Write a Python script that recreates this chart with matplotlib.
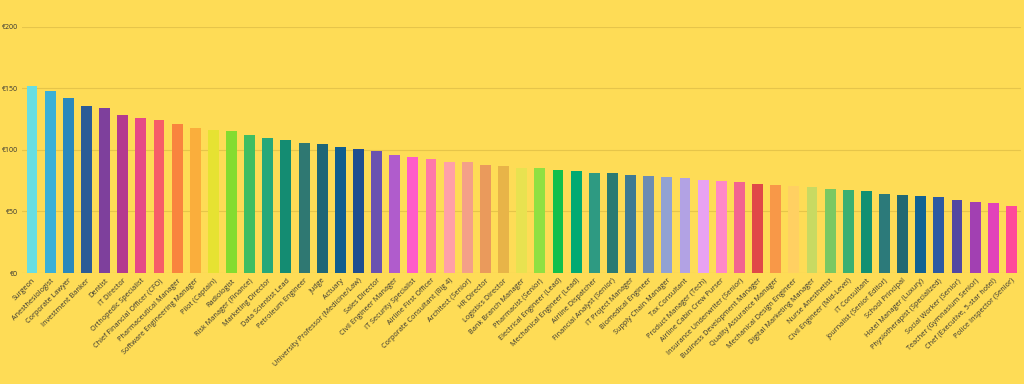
import matplotlib.pyplot as plt

plt.rcParams['font.family'] = ['Open Sans', 'DejaVu Sans']

# =========================
# Dados
# =========================
profissoes = [
    "Surgeon", "Anesthesiologist", "Corporate Lawyer", "Investment Banker", "Dentist",
    "IT Director", "Orthopedic Specialist", "Chief Financial Officer (CFO)",
    "Pharmaceutical Manager", "Software Engineering Manager", "Pilot (Captain)",
    "Radiologist", "Risk Manager (Finance)", "Marketing Director", "Data Scientist Lead",
    "Petroleum Engineer", "Judge", "Actuary", "University Professor (Medicine/Law)",
    "Sales Director", "Civil Engineer Manager", "IT Security Specialist",
    "Airline First Officer", "Corporate Consultant (Big 4)", "Architect (Senior)",
    "HR Director", "Logistics Director", "Bank Branch Manager", "Pharmacist (Senior)",
    "Electrical Engineer (Lead)", "Mechanical Engineer (Lead)", "Airline Dispatcher",
    "Financial Analyst (Senior)", "IT Project Manager", "Biomedical Engineer",
    "Supply Chain Manager", "Tax Consultant", "Product Manager (Tech)",
    "Airline Cabin Crew Purser", "Insurance Underwriter (Senior)",
    "Business Development Manager", "Quality Assurance Manager",
    "Mechanical Design Engineer", "Digital Marketing Manager", "Nurse Anesthetist",
    "Civil Engineer (Mid-Level)", "IT Consultant", "Journalist (Senior Editor)",
    "School Principal", "Hotel Manager (Luxury)", "Physiotherapist (Specialized)",
    "Social Worker (Senior)", "Teacher (Gymnasium Senior)",
    "Chef (Executive, 5-star hotel)", "Police Inspector (Senior)",
]

valores = [
    152, 148, 142, 136, 134, 128, 126, 124, 121, 118,
    116, 115, 112, 110, 108, 106, 105, 102, 101, 99,
    96, 94, 93, 90.5, 90, 88, 87, 85.5, 85, 84,
    83, 81.5, 81, 79.5, 78.5, 78, 77, 75.5, 74.7, 73.6,
    72.5, 71.5, 70.4, 69.5, 68.5, 67.6, 66.6, 64.6, 63.6, 62.8,
    61.7, 59.7, 57.6, 56.5, 54.8,
]

cores = [
    "#68DEE2", "#3BB0D6", "#2A88BC", "#2B5C96", "#7E409C", "#B43A8E", "#E64A86",
    "#F65E68", "#F9843E", "#FAAE3C", "#E6E232", "#84DC30", "#3FBE62", "#27A87A",
    "#148C72", "#2F7872", "#1E6676", "#105E8E", "#1F4E90", "#6A52B0", "#B05CCC",
    "#FF5CC8", "#FF78A8", "#FFA0A8", "#F4A088", "#EA9A5C", "#E8B448", "#E8E250",
    "#90E042", "#12C04C", "#02AA72", "#2E9A82", "#2B7A72", "#3E7A92", "#6C8CB2",
    "#92A2D2", "#B2A2E4", "#E8A2F2", "#FF88C6", "#F26490", "#E04848", "#F89848",
    "#FFD062", "#C8DA62", "#7AC862", "#3AB072", "#129072", "#2C7A7A", "#226872",
    "#126292", "#2C5AA2", "#5248A2", "#A240B2", "#E242BA", "#FF4A9A",
]

fundo = "#FEDC56"

# =========================
# Gráfico
# =========================
fig = plt.figure(figsize=(10.24, 3.84), dpi=100, facecolor=fundo)
ax = fig.add_axes([0.0215, 0.289, 0.976, 0.641])
ax.set_facecolor(fundo)

x = range(len(profissoes))
ax.bar(x, valores, width=0.6, color=cores, zorder=3)

ax.set_ylim(0, 200)
ax.set_yticks([0, 50, 100, 150, 200])
ax.set_yticklabels(["€0", "€50", "€100", "€150", "€200"], fontsize=5, color="#333333")
ax.set_xlim(-0.55, len(profissoes) - 0.45)
ax.set_xticks(list(x))
ax.set_xticklabels(profissoes, rotation=45, ha="right", rotation_mode="anchor",
                   fontsize=5.2, color="#333333")

ax.grid(axis="y", color="#E6C54A", linewidth=0.8, zorder=0)
ax.tick_params(length=0, pad=3)
for s in ax.spines.values():
    s.set_visible(False)

plt.savefig("out.png", dpi=100, facecolor=fundo)
